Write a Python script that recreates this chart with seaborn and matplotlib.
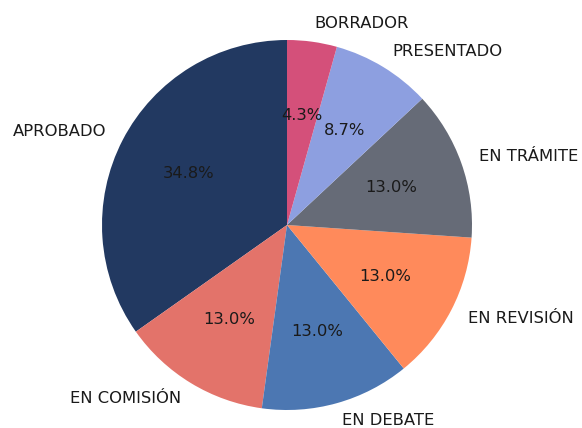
import matplotlib
matplotlib.use('Agg')
import matplotlib.pyplot as plt
import seaborn as sns

# datos
estados = ['APROBADO', 'EN COMISIÓN', 'EN DEBATE', 'EN REVISIÓN',
           'EN TRÁMITE', 'PRESENTADO', 'BORRADOR']
conteos = [8, 3, 3, 3, 3, 2, 1]
colores = ['#223961', '#e3736a', '#4c77b2', '#ff8a5b',
           '#666b77', '#8d9fe0', '#d4507a']

sns.set_style('white')
plt.rcParams['font.family'] = ['DejaVu Sans']

fig = plt.figure(figsize=(5.82, 4.28), dpi=100)
ax = fig.add_axes([0, 0, 1, 1])

ax.pie(conteos, labels=estados, colors=colores, autopct='%1.1f%%',
       startangle=90, wedgeprops={'linewidth': 0},
       textprops={'fontsize': 11.8, 'color': '#1a1a1a'})

# centro del pastel en (287, 225) px, radio ~185 px
r = 185.0
ax.set_xlim(-287 / r, (582 - 287) / r)
ax.set_ylim(-(428 - 225) / r, 225 / r)
ax.set_aspect('auto')
ax.axis('off')

fig.savefig('out.png', dpi=100)
